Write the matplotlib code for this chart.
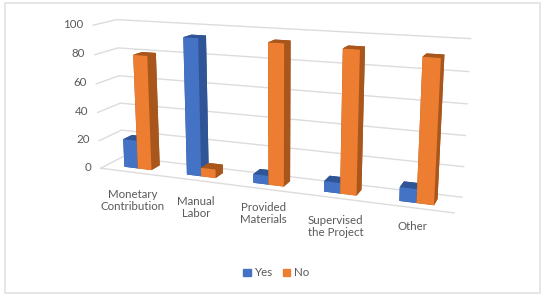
import numpy as np, matplotlib
matplotlib.use('Agg')
import matplotlib.pyplot as plt
from matplotlib.patches import Patch, Rectangle
from mpl_toolkits.mplot3d import proj3d

categories = ['Monetary\nContribution', 'Manual\nLabor', 'Provided\nMaterials', 'Supervised\nthe Project', 'Other']
yes_values = [20, 94, 6, 7, 9]
no_values = [80, 6, 94, 93, 91]
z_ticks = [0, 20, 40, 60, 80, 100]
label_z = [-20.5, -19.5, -17, -19, -12]

BLUE = ('#4472C4', '#2F5597')
ORANGE = ('#ED7D31', '#A9561C')
plt.rcParams['font.family'] = ['Lato', 'DejaVu Sans']
TXT = '#595959'
FS = 8.3
W, H = 545, 296
fig = plt.figure(figsize=(W/100, H/100), dpi=100, facecolor='white')
fig.add_artist(Rectangle((4.5/W, 3/H), 535.5/W, 290/H, transform=fig.transFigure,
                         fill=False, ec='#E2E2E2', lw=1.2))

ax = fig.add_axes([0.1, 0.1, 0.54, 0.8], projection='3d', computed_zorder=False)
ax.set_xlim(0, 5); ax.set_ylim(0, 1); ax.set_zlim(0, 100)
ax.view_init(13.606, -68.7692, 0.0862)
ax.set_proj_type('persp', focal_length=0.3904)
ax.set_box_aspect((2.4371, 0.2953, 1))
ax.set_axis_off()
ax.patch.set_visible(False)

# place the 3D box in the frame: s = px per view unit, (tx, ty) = pixel of view origin
s, tx, ty = 2152.391, 271.634, 187.632
ax.apply_aspect()
p0, p1 = ax.transData.transform([(0, 0), (1, 0)])
s0 = p1[0] - p0[0]
bb = ax.get_position()
Lpx = bb.width * W * s / s0
fx = (p0[0] - bb.x0 * W) / (bb.width * W)
fy = (p0[1] - bb.y0 * H) / (bb.height * H)
ax.set_position([(tx - fx * Lpx) / W, (ty - fy * Lpx) / H, Lpx / W, Lpx / H])
ax.apply_aspect()

def label(x, y, z, text, **kw):
    X, Y, _ = proj3d.proj_transform(x, y, z, ax.get_proj())
    px, py = ax.transData.transform((X, Y))
    fig.text(px / W, py / H, text, color=TXT, fontsize=FS, va='center', **kw)

GRID = dict(color='#DCDCDC', lw=1.0, zorder=1, clip_on=False)
for z in z_ticks:
    ax.plot([0, 0, 5], [0, 1, 1], [z, z, z], **GRID)
    label(-0.16, 0, z, str(z), ha='right')
ax.plot([0, 5], [0, 0], [0, 0], **GRID)

bar_w, y0, bar_d = 0.22, 0.3, 0.4
order = 2
for i, (cat, a, b) in enumerate(zip(categories, yes_values, no_values)):
    for x, v, cols in ((i + 0.28, a, BLUE), (i + 0.5, b, ORANGE)):
        front, dark = cols
        c = [dark, dark, front, dark, dark, dark]
        art = ax.bar3d(x, y0, 0, bar_w, bar_d, v, color=c, shade=False, linewidth=0, clip_on=False)
        art.set_zorder(order); order += 1
    label(i + 0.5, 0, label_z[i], cat, ha='center', linespacing=1.1)

fig.legend(handles=[Patch(color=BLUE[0], label='Yes'), Patch(color=ORANGE[0], label='No')],
           loc='center', bbox_to_anchor=(276/W, 1 - 273/H), ncol=2, frameon=False,
           fontsize=FS, labelcolor=TXT, handlelength=0.65, handleheight=0.65,
           handletextpad=0.3, columnspacing=0.9)
fig.savefig('out.png', dpi=100, facecolor='white')
